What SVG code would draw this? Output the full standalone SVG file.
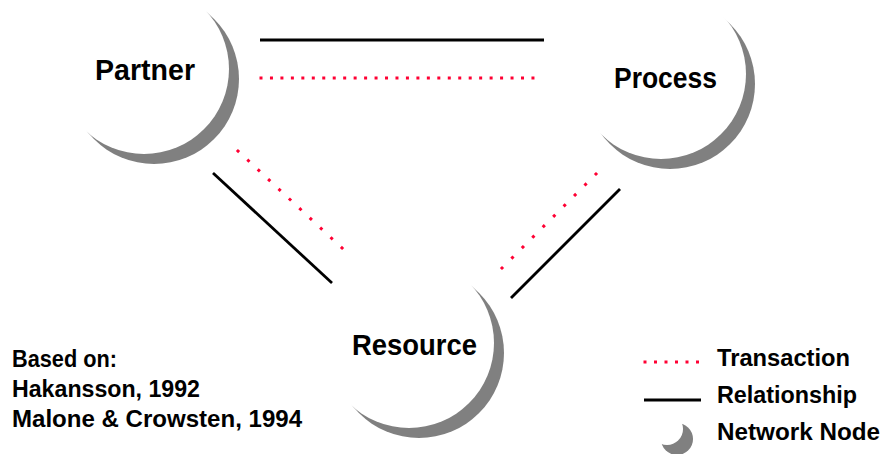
<svg xmlns="http://www.w3.org/2000/svg" width="884" height="454" viewBox="0 0 884 454">
  <style>
    .shade { fill: #808080; }
    .face { fill: #ffffff; }
    .label { font-family: "Liberation Sans", Arial, sans-serif; font-weight: bold; fill: #000000; }
    .node-label { font-size: 29px; }
    .small { font-size: 23px; }
    .rel { stroke: #000000; stroke-width: 2.8; fill: none; }
    .tx { stroke: #ff0033; stroke-width: 3; fill: none; }
  </style>
  <rect width="884" height="454" fill="#ffffff"/>

  <!-- connectors: solid = relationship, dotted = transaction -->
  <g id="connectors">
    <line class="rel" x1="260" y1="40" x2="544" y2="40"/>
    <line class="tx" x1="259.5" y1="78" x2="535" y2="78" stroke-dasharray="3 7.46"/>

    <line class="rel" x1="213" y1="173" x2="332" y2="283"/>
    <line class="tx" x1="236.9" y1="150" x2="343.1" y2="249" stroke-dasharray="3 11.22"/>

    <line class="rel" x1="620" y1="189" x2="511" y2="298"/>
    <line class="tx" x1="597.06" y1="172.94" x2="500.94" y2="269.06" stroke-dasharray="3 11.77"/>
  </g>

  <!-- network nodes: grey crescent shadow under a white disc -->
  <g id="node-partner">
    <circle class="shade" cx="154" cy="79" r="85"/>
    <circle class="face" cx="144" cy="69" r="85"/>
    <text class="label node-label" x="95" y="80" textLength="100" lengthAdjust="spacingAndGlyphs">Partner</text>
  </g>

  <g id="node-process">
    <circle class="shade" cx="670" cy="84" r="85"/>
    <circle class="face" cx="661" cy="74" r="85"/>
    <text class="label node-label" x="614" y="88" textLength="103" lengthAdjust="spacingAndGlyphs">Process</text>
  </g>

  <g id="node-resource">
    <circle class="shade" cx="419" cy="353" r="85"/>
    <circle class="face" cx="409" cy="343" r="85"/>
    <text class="label node-label" x="352" y="355" textLength="125" lengthAdjust="spacingAndGlyphs">Resource</text>
  </g>

  <!-- source note -->
  <g id="source-note">
    <text class="label small" x="12" y="367" textLength="105" lengthAdjust="spacingAndGlyphs">Based on:</text>
    <text class="label small" x="12" y="397" textLength="188" lengthAdjust="spacingAndGlyphs">Hakansson, 1992</text>
    <text class="label small" x="12" y="427" textLength="290" lengthAdjust="spacingAndGlyphs">Malone &amp; Crowsten, 1994</text>
  </g>

  <!-- legend -->
  <g id="legend">
    <line class="tx" x1="643.5" y1="362" x2="699" y2="362" stroke-dasharray="3 7.5"/>
    <text class="label small" x="717" y="366" textLength="133" lengthAdjust="spacingAndGlyphs">Transaction</text>

    <line class="rel" x1="644" y1="400" x2="701" y2="400"/>
    <text class="label small" x="717" y="403" textLength="140" lengthAdjust="spacingAndGlyphs">Relationship</text>

    <circle class="shade" cx="677" cy="439" r="16"/>
    <circle class="face" cx="667" cy="429" r="16"/>
    <text class="label small" x="717" y="440" textLength="163" lengthAdjust="spacingAndGlyphs">Network Node</text>
  </g>
</svg>
